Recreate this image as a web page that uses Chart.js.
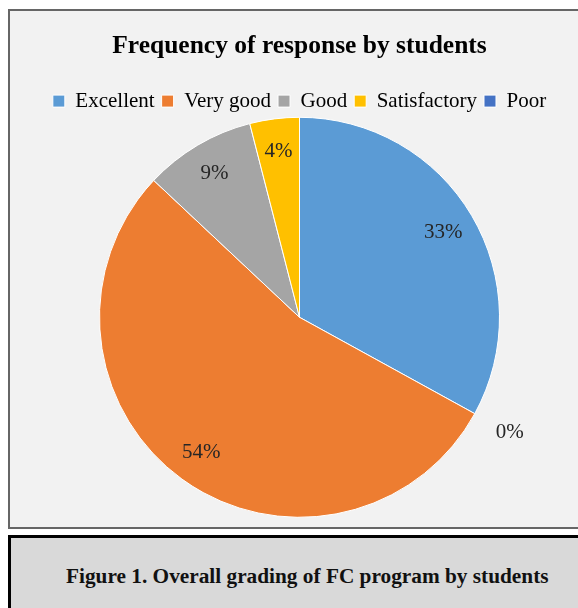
<!DOCTYPE html>
<html>
<head>
<meta charset="utf-8">
<script src="https://cdn.jsdelivr.net/npm/chart.js@4"></script>
<style>
  html, body { margin: 0; padding: 0; background: #ffffff; width: 578px; height: 608px; overflow: hidden; }
  #chartBox { position: absolute; left: 8px; top: 9px; width: 620px; height: 520px; box-sizing: border-box;
    border: 2px solid #666666; background: #f2f2f2; }
  #wrap { position: absolute; left: 0; top: 0; width: 578px; height: 530px; }
  #caption { position: absolute; left: 8px; top: 535px; width: 620px; height: 120px; box-sizing: border-box;
    border: 3px solid #000000; background: #d9d9d9; }
  #caption span { position: absolute; left: 55px; top: 26px; font-family: "Liberation Serif", "Times New Roman", serif;
    font-weight: bold; font-size: 21.3px; color: #111; white-space: nowrap; }
</style>
</head>
<body>
<div id="chartBox"></div>
<div id="wrap"><canvas id="c" width="578" height="530"></canvas></div>
<div id="caption"><span>Figure 1. Overall grading of FC program by students</span></div>
<script>
const categories = ["Excellent", "Very good", "Good", "Satisfactory", "Poor"];
const percentages = [33, 54, 9, 4, 0];
const sliceColors = ["#5b9bd5", "#ed7d31", "#a5a5a5", "#ffc000", "#4472c4"];
// order in which slices go round the pie (clockwise from 12 o'clock), as indexes into the arrays above
const sliceOrder = [0, 4, 1, 2, 3];
const chartTitle = "Frequency of response by students";

Chart.defaults.font.family = "'Liberation Serif', 'Times New Roman', serif";

const pctLabels = {
  id: 'pctLabels',
  afterDatasetsDraw(chart) {
    const ctx = chart.ctx;
    const meta = chart.getDatasetMeta(0);
    const data = chart.data.datasets[0].data;
    ctx.save();
    ctx.font = "21px 'Liberation Serif', 'Times New Roman', serif";
    ctx.fillStyle = '#262626';
    ctx.textAlign = 'center';
    ctx.textBaseline = 'middle';
    meta.data.forEach((arc, i) => {
      const p = arc.getProps(['x', 'y', 'startAngle', 'endAngle', 'outerRadius'], true);
      const mid = (p.startAngle + p.endAngle) / 2;
      const f = data[i] === 0 ? 1.2 : 0.835;
      const r = p.outerRadius * f;
      ctx.fillText(data[i] + '%', p.x + Math.cos(mid) * r, p.y + Math.sin(mid) * r);
    });
    ctx.restore();
  }
};

new Chart(document.getElementById('c'), {
  type: 'pie',
  data: {
    labels: sliceOrder.map(i => categories[i]),
    datasets: [{
      data: sliceOrder.map(i => percentages[i]),
      backgroundColor: sliceOrder.map(i => sliceColors[i]),
      borderColor: '#ffffff',
      borderWidth: 1,
      radius: 200
    }]
  },
  plugins: [pctLabels],
  options: {
    responsive: false,
    animation: false,
    events: [],
    layout: { padding: { left: 21, right: 0, top: 10, bottom: 17 } },
    plugins: {
      tooltip: { enabled: false },
      title: {
        display: true,
        text: chartTitle,
        color: '#000000',
        font: { size: 25.5, weight: 'bold' },
        padding: { top: 21, bottom: 22 }
      },
      legend: {
        display: true,
        position: 'top',
        labels: {
          boxWidth: 12,
          boxHeight: 12,
          padding: 7,
          color: '#000000',
          font: { size: 21 },
          sort: (a, b) => categories.indexOf(a.text) - categories.indexOf(b.text)
        }
      }
    }
  }
});
</script>
</body>
</html>
